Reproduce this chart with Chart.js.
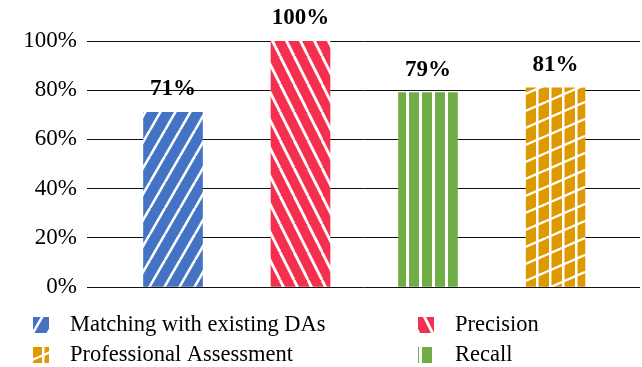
<!DOCTYPE html>
<html>
<head>
<meta charset="utf-8">
<script src="https://cdn.jsdelivr.net/npm/chart.js@4/dist/chart.umd.min.js"></script>
<style>
  html, body { margin: 0; padding: 0; background: #fff; }
  #wrap { width: 642px; height: 367px; position: relative; }
</style>
</head>
<body>
<div id="wrap"><canvas id="resultChart"></canvas></div>
<script>

/*=========================================
DATA
=========================================*/

const categories = ["Matching with existing DAs", "Precision", "Recall", "Professional Assessment"];

const values = [71, 100, 79, 81];

const yTicks = [0, 20, 40, 60, 80, 100];

// legend reads row by row: Matching, Precision / Professional, Recall
const legendOrder = [0, 1, 3, 2];

const FONT = "'Liberation Serif', 'Times New Roman', serif";

/*=========================================
PATTERNS
=========================================*/

const canvas = document.getElementById("resultChart");
const ctx = canvas.getContext("2d");

function makePattern(color, w, h, draw) {
    const tile = document.createElement("canvas");
    tile.width = w;
    tile.height = h;
    const g = tile.getContext("2d");
    g.fillStyle = color;
    g.fillRect(0, 0, w, h);
    g.strokeStyle = "#fff";
    g.fillStyle = "#fff";
    draw(g, w, h);
    return ctx.createPattern(tile, "repeat");
}

const bluePattern = makePattern("#4472C4", 15, 26, (g, w, h) => {
    g.lineWidth = 2.6;
    for (let k = -1; k <= 1; k++) {
        g.beginPath();
        g.moveTo(k * w, h);
        g.lineTo(k * w + w, 0);
        g.stroke();
    }
});

const redPattern = makePattern("#F5304F", 14, 28, (g, w, h) => {
    g.lineWidth = 2.8;
    for (let k = -1; k <= 1; k++) {
        g.beginPath();
        g.moveTo(k * w, 0);
        g.lineTo(k * w + w, h);
        g.stroke();
    }
});

const greenPattern = makePattern("#70AD47", 13, 13, (g, w, h) => {
    g.fillRect(3, 0, 3, h);
});

const orangePattern = makePattern("#DE9800", 39, 17, (g, w, h) => {
    g.lineWidth = 2.4;
    for (let k = -1; k <= 1; k++) {
        g.beginPath();
        g.moveTo(0, h + k * h);
        g.lineTo(w, k * h);
        g.stroke();
    }
    [3, 16, 29].forEach(x => g.fillRect(x, 0, 2.5, h));
});

const fills = [bluePattern, redPattern, greenPattern, orangePattern];

/*=========================================
PLUGINS
=========================================*/

const valueLabels = {
    id: "valueLabels",
    afterDatasetsDraw(chart) {
        const c = chart.ctx;
        c.save();
        c.font = "bold 23px " + FONT;
        c.fillStyle = "#000";
        c.textAlign = "center";
        c.textBaseline = "middle";
        chart.data.datasets.forEach((ds, i) => {
            const bar = chart.getDatasetMeta(i).data[0];
            c.fillText(values[i] + "%", bar.x, bar.y - 23);
        });
        c.restore();
    }
};

const gridLegend = {
    id: "gridLegend",
    afterDraw(chart) {
        const c = chart.ctx;
        const colX = [33, 418];
        const rowY = [325, 355];
        c.save();
        c.font = "22.5px " + FONT;
        c.textBaseline = "middle";
        legendOrder.forEach((idx, n) => {
            const x = colX[n % 2];
            const y = rowY[Math.floor(n / 2)];
            c.fillStyle = fills[idx];
            c.fillRect(x, y - 8, 16, 16);
            c.fillStyle = "#000";
            c.fillText(categories[idx], x + 37, y);
        });
        c.restore();
    }
};

/*=========================================
CHART
=========================================*/

new Chart(canvas, {

    type: "bar",

    data: {

        datasets: categories.map((label, i) => ({

            label: label,

            data: [{ x: i + 1, y: values[i] }],

            backgroundColor: fills[i],

            borderWidth: 0,

            barThickness: 59

        }))

    },

    options: {

        responsive: true,

        maintainAspectRatio: false,

        animation: false,

        grouped: false,

        layout: {

            padding: { left: 0, right: 2, top: 41, bottom: 80 }

        },

        scales: {

            x: {

                type: "linear",

                display: false,

                offset: false,

                min: 0.3255,

                max: 4.663

            },

            y: {

                min: 0,

                max: 100,

                afterBuildTicks(scale) {

                    scale.ticks = yTicks.map(v => ({ value: v }));

                },

                afterFit(scale) {

                    scale.width = 87;

                },

                border: { display: false },

                grid: {

                    color: "#111",

                    lineWidth: 1,

                    drawTicks: false

                },

                ticks: {

                    padding: 10,

                    color: "#000",

                    font: { family: FONT, size: 23 },

                    callback: v => v + "%"

                }

            }

        },

        plugins: {

            legend: { display: false },

            tooltip: { enabled: false }

        }

    },

    plugins: [valueLabels, gridLegend]

});

</script>
</body>
</html>
